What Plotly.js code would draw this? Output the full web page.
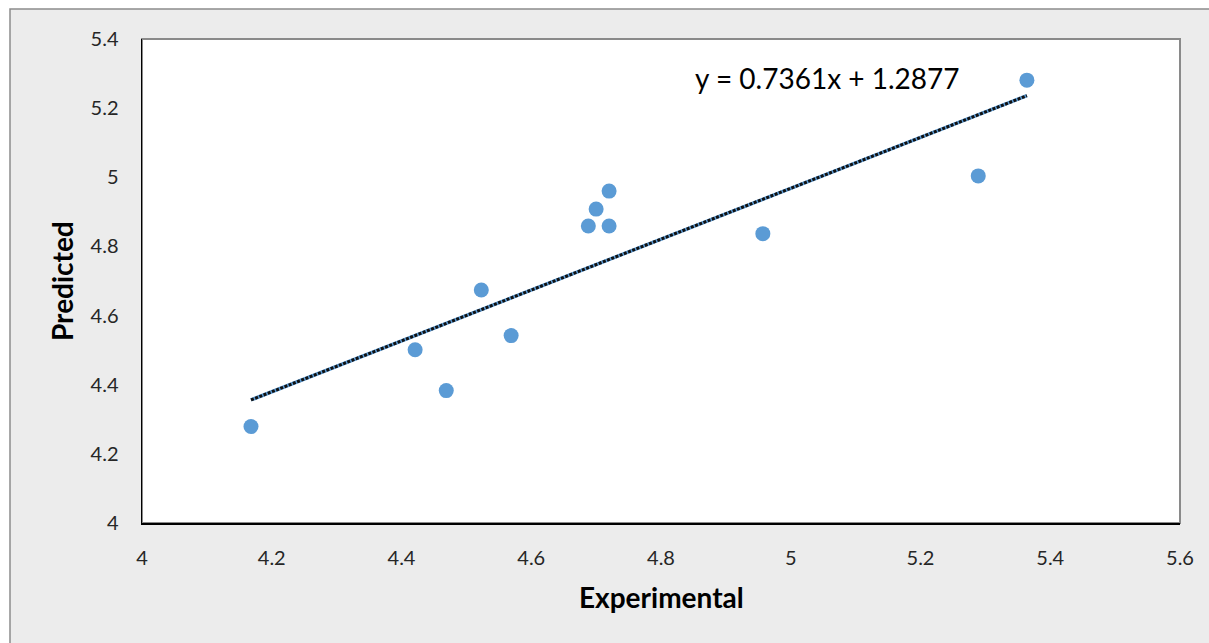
<!DOCTYPE html>
<html>
<head>
<meta charset="utf-8">
<script src="https://cdn.plot.ly/plotly-3.0.1.min.js"></script>
<style>html,body{margin:0;padding:0;background:#fff;}#chart{width:1209px;height:643px;}</style>
</head>
<body>
<div id="chart"></div>
<script>
// Data
const experimental = [4.168, 4.421, 4.469, 4.523, 4.569, 4.688, 4.700, 4.720, 4.720, 4.957, 5.289, 5.364];
const predicted    = [4.279, 4.501, 4.383, 4.674, 4.542, 4.859, 4.908, 4.960, 4.859, 4.837, 5.004, 5.281];
const trendX = [4.168, 5.364];
const trendY = [4.356, 5.236];
const equationText = 'y = 0.7361x + 1.2877';
const xTicks = [4, 4.2, 4.4, 4.6, 4.8, 5, 5.2, 5.4, 5.6];
const xTickText = ['4', '4.2', '4.4', '4.6', '4.8', '5', '5.2', '5.4', '5.6'];
const yTicks = [4, 4.2, 4.4, 4.6, 4.8, 5, 5.2, 5.4];
const yTickText = ['4', '4.2', '4.4', '4.6', '4.8', '5', '5.2', '5.4'];

const FONT = 'Lato, "Open Sans", "Liberation Sans", sans-serif';
const W = 1209, H = 643;
const m = {l: 142, r: 29, t: 39, b: 120};
const pw = W - m.l - m.r, ph = H - m.t - m.b;

const traces = [
  {x: trendX, y: trendY, mode: 'lines', line: {color: '#5b9bd5', width: 3.5}, hoverinfo: 'skip', showlegend: false},
  {x: trendX, y: trendY, mode: 'lines', line: {color: '#111', width: 3, dash: '3px,1.5px'}, hoverinfo: 'skip', showlegend: false},
  {x: experimental, y: predicted, mode: 'markers', marker: {color: '#5b9bd5', size: 15}, showlegend: false}
];

const layout = {
  width: W, height: H,
  margin: m,
  paper_bgcolor: '#ffffff',
  plot_bgcolor: '#ffffff',
  showlegend: false,
  font: {family: FONT, color: '#262626', size: 20},
  xaxis: {
    range: [4, 5.6], tickvals: xTicks, ticktext: xTickText,
    showgrid: false, zeroline: false, showline: true, linecolor: '#000', linewidth: 1.5,
    ticks: '', ticklabelstandoff: 16,
    tickfont: {family: FONT, size: 20, color: '#262626'}
  },
  yaxis: {
    range: [4, 5.4], tickvals: yTicks, ticktext: yTickText,
    showgrid: false, zeroline: false, showline: true, linecolor: '#000', linewidth: 1.5,
    ticks: '', ticklabelstandoff: 18,
    tickfont: {family: FONT, size: 20, color: '#262626'}
  },
  shapes: [
    {type: 'rect', xref: 'paper', yref: 'paper', layer: 'below',
     x0: (10 - m.l) / pw, x1: 1.3, y0: -0.5, y1: 1 + (m.t - 9) / ph,
     fillcolor: '#ececec', line: {color: '#8c8c8c', width: 1.5}},
    {type: 'rect', xref: 'paper', yref: 'paper', layer: 'below',
     x0: 0, x1: 1, y0: 0, y1: 1,
     fillcolor: '#ffffff', line: {color: '#8a8a8a', width: 2}}
  ],
  annotations: [
    {x: 4.850, y: 5.287, xref: 'x', yref: 'y', text: equationText, showarrow: false,
     xanchor: 'left', yanchor: 'middle', font: {family: FONT, size: 28, color: '#000'}},
    {x: 0.5, y: -(597 - 523) / ph, xref: 'paper', yref: 'paper', text: 'Experimental', showarrow: false,
     xanchor: 'center', yanchor: 'middle', font: {family: FONT, size: 28, color: '#000', weight: 'bold'}},
    {x: -(142 - 62) / pw, y: 0.5, xref: 'paper', yref: 'paper', text: 'Predicted', showarrow: false, textangle: -90,
     xanchor: 'center', yanchor: 'middle', font: {family: FONT, size: 28, color: '#000', weight: 'bold'}}
  ]
};

Plotly.newPlot('chart', traces, layout, {displayModeBar: false, staticPlot: true});
</script>
</body>
</html>
